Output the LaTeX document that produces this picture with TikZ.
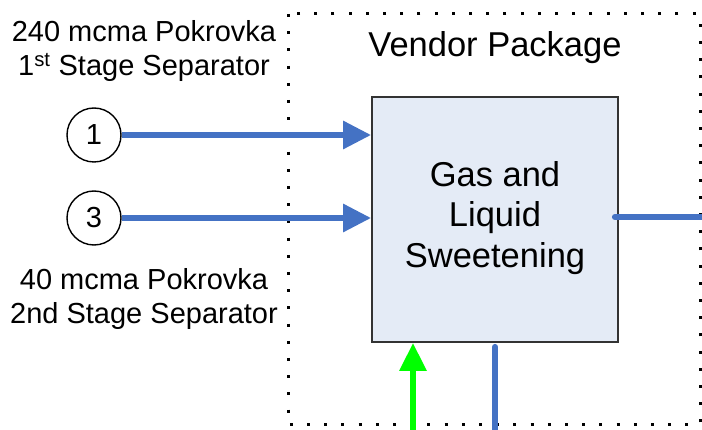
\documentclass[tikz,border=0pt]{standalone}
\usepackage{fontspec}
\setmainfont{Liberation Sans}
\usetikzlibrary{arrows.meta}
\definecolor{pipeblue}{HTML}{4472C4}
\definecolor{boxfill}{HTML}{E4EBF6}
\begin{document}
\begin{tikzpicture}[x=1pt,y=-1pt]
        \tikzstyle{every node}+=[inner sep=0pt]
        \tikzstyle{stream}=[draw=black,line width=1.4pt,circle,minimum size=54pt,font=\fontsize{29}{34}\selectfont]
        \tikzstyle{label}=[align=center,font=\fontsize{29}{34}\selectfont]
        \tikzstyle{pipe}=[pipeblue,line width=6pt]
        \tikzstyle{feed}=[pipe,-{Triangle[length=28pt,width=27pt]}]
        \useasboundingbox (0,0) rectangle (702,430);
        % vendor battery limit
        \draw [line width=3pt,dash pattern=on 3pt off 14.2pt] (288,14) rectangle (700,425);
        \node (vendor) at (495,48) {\fontsize{34.5}{40}\selectfont Vendor Package};
        % sweetening unit
        \node (box) [draw=black!80,line width=1.8pt,fill=boxfill,minimum width=246pt,minimum height=245pt] at (495,219.5) {};
        \node [align=center,font=\fontsize{34.5}{40.5}\selectfont] at (495,218) {Gas and\\Liquid\\Sweetening};
        % inlet streams
        \node (s1) [stream] at (94,135) {1};
        \node (s3) [stream] at (94,218) {3};
        \node (l1) [label,anchor=north] at (144,20) {240 mcma Pokrovka\\1\textsuperscript{st} Stage Separator};
        \node (l3) [label,anchor=north] at (144,268) {40 mcma Pokrovka\\2nd Stage Separator};
        \draw [feed] (s1) -- (s1 -| box.west);
        \draw [feed] (s3) -- (s3 -| box.west);
        % outlets and utility
        \coordinate (gasout) at (703,217);
        \coordinate (liqout) at (495,431);
        \coordinate (utilin) at (413,431);
        \draw [pipe,line cap=round] ([xshift=-4pt]box.east |- gasout) -- (gasout);
        \draw [pipe,line cap=round] ([yshift=-4pt]box.south) -- (liqout);
        \draw [green,line width=6pt,-{Triangle[length=28pt,width=26pt]}] (utilin) -- (utilin |- box.south);
\end{tikzpicture}
\end{document}
